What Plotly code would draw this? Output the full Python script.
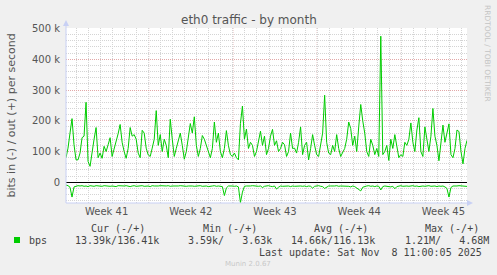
import pandas as pd
import plotly.graph_objects as go

# ---------------- data (values in k bits/s, 4-hour steps) ----------------
start_time = "2025-10-06 03:00"
end_time = "2025-11-08 11:00"

out_k = [
    80, 111, 160, 207, 122, 73, 73, 95, 145, 150,
    260, 68, 52, 106, 140, 178, 80, 95, 78, 117,
    100, 122, 145, 84, 106, 130, 158, 188, 130, 100,
    78, 110, 178, 150, 155, 140, 95, 80, 169, 160,
    111, 89, 84, 111, 140, 233, 120, 155, 100, 140,
    120, 80, 205, 140, 84, 110, 135, 160, 120, 75,
    100, 150, 191, 160, 213, 120, 84, 110, 152, 140,
    120, 95, 80, 110, 196, 130, 160, 100, 80, 110,
    168, 120, 90, 84, 95, 80, 73, 191, 248, 140,
    173, 110, 130, 120, 84, 100, 130, 166, 120, 150,
    90, 110, 150, 172, 120, 135, 100, 110, 130, 122,
    84, 100, 160, 110, 111, 95, 130, 180, 90, 120,
    130, 73, 110, 155, 120, 90, 84, 130, 160, 283,
    130, 95, 90, 120, 100, 155, 110, 84, 95, 110,
    140, 196, 175, 120, 150, 100, 180, 253, 200, 160,
    100, 84, 140, 120, 90, 110, 84, 475, 90, 100,
    120, 71, 140, 110, 155, 110, 80, 90, 84, 130,
    120, 140, 193, 130, 100, 170, 210, 100, 84, 180,
    140, 100, 150, 240, 150, 120, 70, 120, 186, 130,
    160, 190, 90, 80, 110, 170, 165, 100, 60, 110,
    136.41,
]

in_k = [
    -9, -11, -16, -48, -15, -12, -11, -12, -11, -13,
    -12, -14, -11, -12, -13, -11, -12, -12, -13, -11,
    -12, -11, -13, -12, -12, -14, -11, -12, -13, -12,
    -11, -12, -14, -12, -11, -13, -12, -12, -11, -13,
    -12, -12, -14, -11, -12, -13, -12, -11, -12, -13,
    -12, -11, -13, -12, -12, -14, -12, -11, -12, -12,
    -13, -12, -11, -12, -13, -12, -12, -11, -13, -12,
    -12, -14, -12, -12, -11, -13, -12, -12, -14, -43,
    -18, -12, -11, -12, -13, -12, -15, -66, -32, -13,
    -12, -13, -12, -11, -12, -14, -13, -12, -17, -13,
    -12, -11, -13, -14, -12, -22, -16, -12, -13, -12,
    -11, -12, -14, -12, -13, -12, -11, -12, -13, -12,
    -14, -12, -13, -19, -13, -12, -11, -13, -14, -20,
    -15, -12, -12, -13, -12, -11, -13, -12, -12, -14,
    -12, -13, -15, -12, -14, -18, -24, -28, -16, -13,
    -12, -11, -13, -12, -14, -12, -13, -25, -14, -12,
    -13, -12, -15, -13, -21, -14, -12, -11, -13, -12,
    -12, -13, -12, -11, -13, -12, -14, -12, -12, -13,
    -12, -11, -13, -12, -12, -14, -12, -13, -12, -15,
    -20, -48, -17, -12, -13, -12, -11, -12, -13, -12,
    -13.39,
]

week_labels = ["Week 41", "Week 42", "Week 43", "Week 44", "Week 45"]
week_mid = ["2025-10-09 12:00", "2025-10-16 12:00", "2025-10-23 12:00",
            "2025-10-30 12:00", "2025-11-06 12:00"]
week_starts = ["2025-10-13", "2025-10-20", "2025-10-27", "2025-11-03"]

y_tickvals = [0, 100, 200, 300, 400, 500]
y_ticktext = ["0", "100 k", "200 k", "300 k", "400 k", "500 k"]

legend_name = "bps"
legend_headers = ["Cur (-/+)", "Min (-/+)", "Avg (-/+)", "Max (-/+)"]
legend_in = ["13.39k", "3.59k", "14.66k", "1.21M"]
legend_out = ["136.41k", "3.63k", "116.13k", "4.68M"]
last_update = "Last update: Sat Nov  8 11:00:05 2025"

# ---------------- layout helpers ----------------
W, H = 497, 275
PL, PR, PT, PB = 66, 467, 28, 203


def fx(px):
    return (px - PL) / (PR - PL)


def fy(py):
    return (PB - py) / (PB - PT)


times = pd.date_range(start_time, end_time, periods=len(out_k))

GREEN = "#00CC00"
MAJ = "#E2A8A8"
MIN = "#D4D4D4"
AXIS = "#C8D0F4"
NB = "\u00a0"

fig = go.Figure()
fig.add_trace(go.Scatter(x=times, y=in_k, mode="lines",
                         line=dict(color=GREEN, width=1), hoverinfo="skip"))
fig.add_trace(go.Scatter(x=times, y=out_k, mode="lines",
                         line=dict(color=GREEN, width=1), hoverinfo="skip"))

shapes = []
for ws in week_starts:
    shapes.append(dict(type="line", xref="x", yref="paper", x0=ws, x1=ws,
                       y0=0, y1=1, layer="below",
                       line=dict(color=MAJ, width=1, dash="1px,1px")))
# axis arrows
shapes.append(dict(type="path", xref="paper", yref="paper",
                   path=f"M {fx(63)} {fy(26)} L {fx(69)} {fy(26)} L {fx(66)} {fy(20)} Z",
                   fillcolor=AXIS, line=dict(width=0)))
shapes.append(dict(type="line", xref="paper", yref="paper", x0=0, x1=0,
                   y0=0, y1=fy(24), line=dict(color=AXIS, width=1)))
shapes.append(dict(type="path", xref="paper", yref="paper",
                   path=f"M {fx(467)} {fy(200)} L {fx(467)} {fy(206)} L {fx(473)} {fy(203)} Z",
                   fillcolor=AXIS, line=dict(width=0)))
shapes.append(dict(type="line", xref="paper", yref="paper", x0=0, x1=fx(469),
                   y0=0, y1=0, line=dict(color=AXIS, width=1)))
# legend colour box
shapes.append(dict(type="rect", xref="paper", yref="paper",
                   x0=fx(14), x1=fx(20), y0=fy(243), y1=fy(237),
                   fillcolor=GREEN, line=dict(width=0)))

annotations = []


def txt(text, px, py, size=10, color="#444", family="DejaVu Sans Mono",
        xanchor="left", angle=0):
    annotations.append(dict(text=text, x=fx(px), y=fy(py), xref="paper",
                            yref="paper", showarrow=False, xanchor=xanchor,
                            yanchor="middle", textangle=angle,
                            font=dict(size=size, color=color, family=family)))


txt("eth0 traffic - by month", 248.5, 19.5, size=12, color="#555",
    family="DejaVu Sans", xanchor="center")
txt("bits in (-) / out (+) per second", 11, 115.5, size=11, color="#555",
    family="DejaVu Sans", xanchor="center", angle=-90)
txt("RRDTOOL / TOBI OETIKER", 487.5, 53.5, size=7.5, color="#C4C4C4",
    family="DejaVu Sans", xanchor="center", angle=90)

header_x = [89, 201, 312, 423]
value_x = [73, 186, 289, 403]
for hx, h in zip(header_x, legend_headers):
    txt(h, hx, 228.5, color="#444")
txt(legend_name, 27, 240, color="#444")
for vx, a, b in zip(value_x, legend_in, legend_out):
    s = f"{a}/{b.rjust(7)}" if len(a) >= 6 else f"{a}/{b.rjust(8)}"
    txt(s.replace(" ", NB), vx, 240, color="#444")
txt(last_update.replace(" ", NB), 484, 252, color="#444", xanchor="right")
txt("Munin 2.0.67", 248, 264, size=7, color="#C8C8C8", family="DejaVu Sans",
    xanchor="center")

fig.update_layout(
    width=W, height=H,
    margin=dict(l=PL, r=W - PR, t=PT, b=H - PB, pad=0),
    paper_bgcolor="#F0F0F0", plot_bgcolor="#FFFFFF",
    showlegend=False,
    shapes=shapes, annotations=annotations,
    font=dict(family="DejaVu Sans", size=10, color="#555"),
)
fig.update_xaxes(
    range=[start_time, end_time],
    tickmode="array", tickvals=week_mid, ticktext=week_labels,
    showgrid=False, ticks="", showline=False, zeroline=False,
    tickfont=dict(size=10, color="#555"), ticklabelstandoff=1,
    minor=dict(dtick=86400000, tick0="2025-10-06", showgrid=True,
               gridcolor=MIN, griddash="1px,1px", gridwidth=1),
)
fig.update_yaxes(
    range=[-67.3, 501.6],
    tickmode="array", tickvals=y_tickvals, ticktext=y_ticktext,
    showgrid=True, gridcolor=MAJ, griddash="1px,1px", gridwidth=1,
    ticks="", showline=False, ticklabelstandoff=5,
    zeroline=True, zerolinecolor="#000000", zerolinewidth=1.3,
    tickfont=dict(size=10, color="#555"),
    minor=dict(dtick=20, tick0=0, showgrid=True, gridcolor=MIN,
               griddash="1px,1px", gridwidth=1),
)

fig.write_html("out.html", config={"displayModeBar": False})
